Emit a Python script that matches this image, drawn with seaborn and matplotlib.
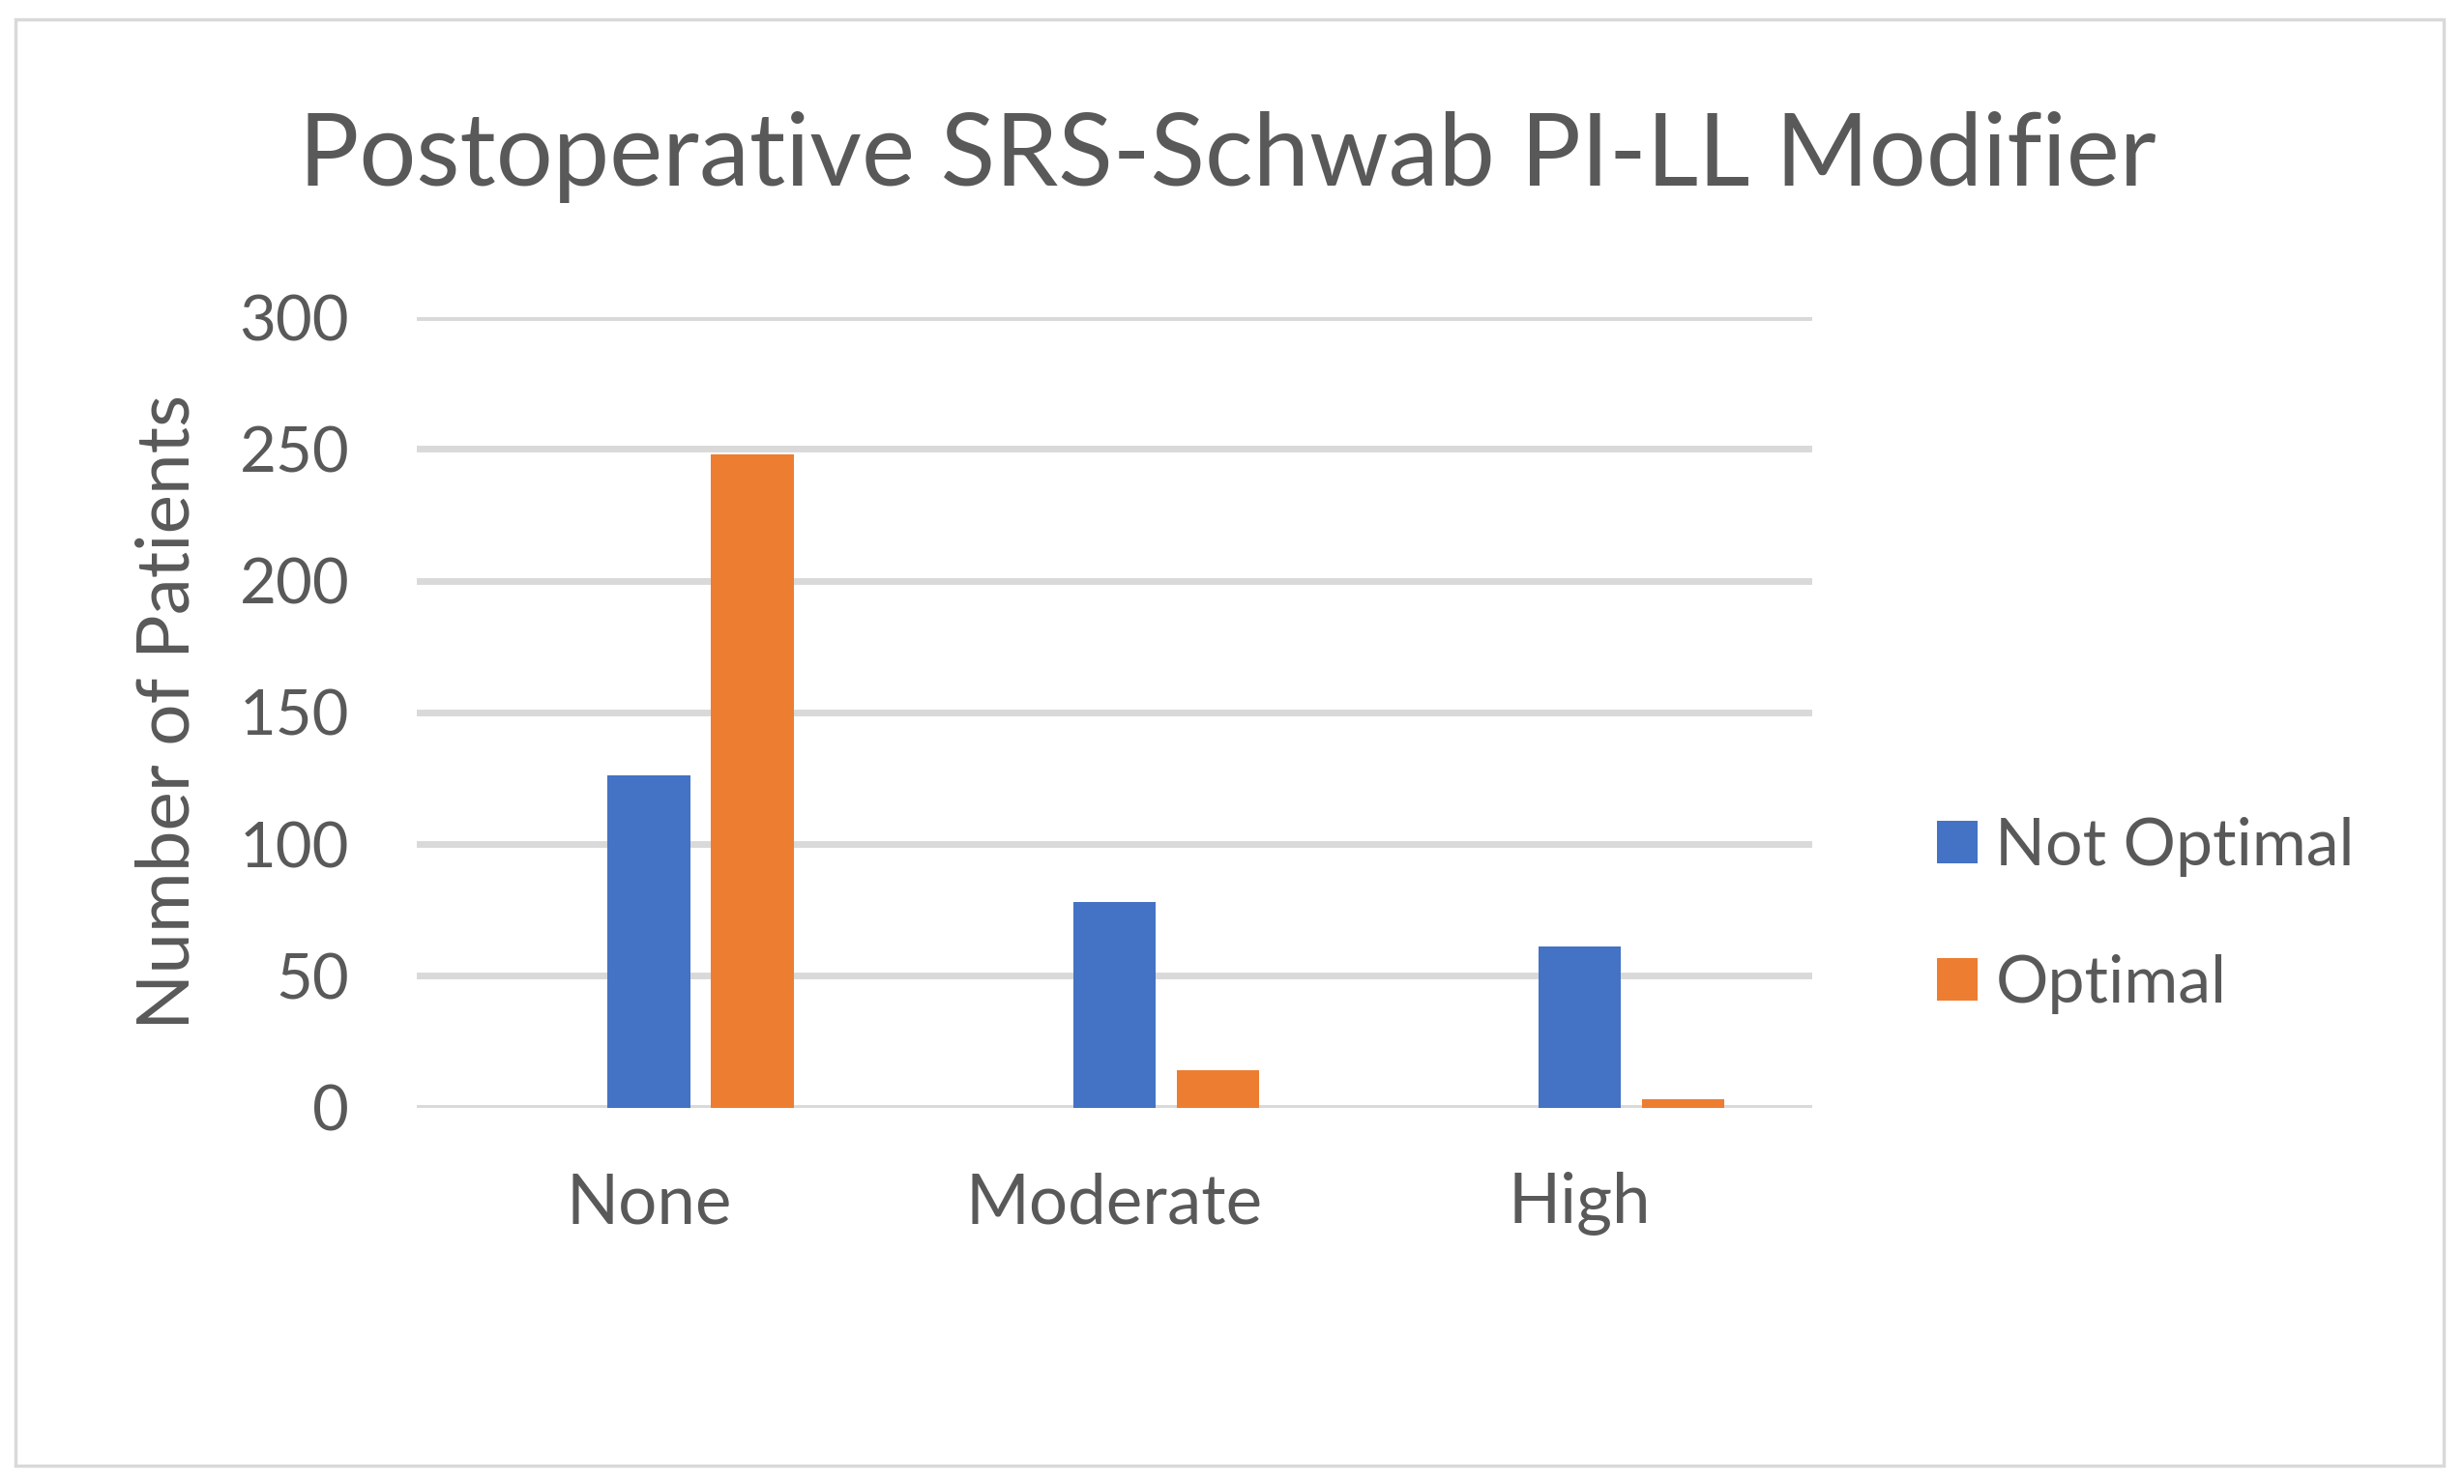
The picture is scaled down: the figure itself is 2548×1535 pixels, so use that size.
import matplotlib
matplotlib.use("Agg")
import matplotlib.pyplot as plt
import seaborn as sns
import pandas as pd
from matplotlib.patches import Patch, Rectangle

categories = ["None", "Moderate", "High"]
not_optimal = [126, 78, 61]
optimal = [248, 14, 3]
blank_series = [0, 0, 0]  # empty placeholder series (reserves a slot as in the original)
series_names = ["", "Not Optimal", "Optimal"]
colors = ["#FFFFFF", "#4472C4", "#ED7D31"]
yticks = [0, 50, 100, 150, 200, 250, 300]

rows = []
for name, vals in zip(series_names, [blank_series, not_optimal, optimal]):
    for c, v in zip(categories, vals):
        rows.append({"category": c, "series": name, "value": v})
df = pd.DataFrame(rows)

sns.set_theme(style="white")
plt.rcParams["font.family"] = ["Lato", "DejaVu Sans"]
text_color = "#595959"
grid_color = "#D9D9D9"

fig = plt.figure(figsize=(25.48, 15.35), dpi=100)
ax = fig.add_axes([0.169, 0.2537, 0.5665, 0.5326])

sns.barplot(data=df, x="category", y="value", hue="series",
            hue_order=series_names, order=categories,
            palette=dict(zip(series_names, colors)), saturation=1,
            width=0.667, gap=0.2, linewidth=0, ax=ax, legend=False,
            errorbar=None, zorder=3)

ax.set_ylim(0, 300)
ax.set_xlim(-0.5, 2.5)
ax.set_yticks(yticks)
ax.set_yticklabels([str(t) for t in yticks])
for t in yticks:
    ax.axhline(t, color=grid_color, lw=5, zorder=1)
for s in ax.spines.values():
    s.set_visible(False)
ax.tick_params(axis="both", length=0, colors=text_color)
ax.tick_params(axis="y", pad=50, labelsize=47)
ax.tick_params(axis="x", pad=48, labelsize=51)
ax.set_xlabel("")
ax.set_ylabel("Number of Patients", fontsize=55, color=text_color, labelpad=28)

fig.suptitle("Postoperative SRS-Schwab PI-LL Modifier", fontsize=75,
             color=text_color, x=0.498, y=0.925, va="top")

handles = [Patch(facecolor=colors[1], edgecolor="none"),
           Patch(facecolor=colors[2], edgecolor="none")]
fig.legend(handles, series_names[1:], loc="center left",
           bbox_to_anchor=(0.786, 0.383), frameon=False, fontsize=49,
           labelcolor=text_color, handlelength=0.62, handleheight=0.62,
           handletextpad=0.27, labelspacing=1.18, borderpad=0, borderaxespad=0)

fig.patches.append(Rectangle((0.0063, 0.0124), 0.9855, 0.9746, transform=fig.transFigure,
                             fill=False, edgecolor=grid_color, lw=2.5, zorder=0))

fig.savefig("out.png", dpi=100, facecolor="white")
